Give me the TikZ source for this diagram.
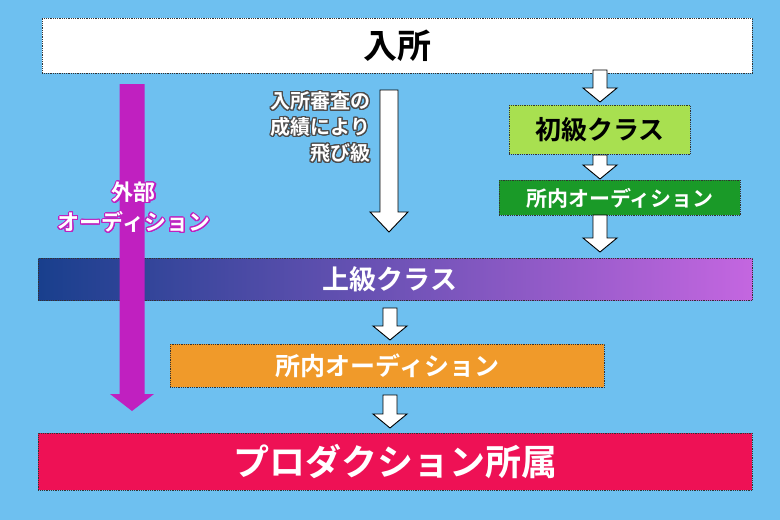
\documentclass[tikz,border=0pt]{standalone}
\usepackage{fontspec}
\newfontfamily\jp{Noto Sans CJK JP Bold}
\usepackage{contour}
\contourlength{1.1pt}
\contournumber{24}
\usetikzlibrary{calc}
\definecolor{sky}{HTML}{6EC0F0}
\definecolor{lgreen}{HTML}{A8E050}
\definecolor{dgreen}{HTML}{1A9A28}
\definecolor{upblue}{HTML}{1F4FB0}
\definecolor{uppink}{HTML}{C466E0}
\definecolor{orng}{HTML}{F09A2A}
\definecolor{prod}{HTML}{EE1155}
\definecolor{purp}{HTML}{C020C0}
\tikzset{
  box/.style={draw=black!80, densely dotted, line width=0.8pt, anchor=north west, inner sep=0pt},
  arr/.style={fill=white, draw=black, line width=0.9pt, line join=miter}
}
\begin{document}
\begin{tikzpicture}[x=1pt,y=-1pt]
  \fill[sky] (0,0) rectangle (780,520);
  \useasboundingbox (0,0) rectangle (780,520);

  \node[box, fill=white, minimum width=710pt, minimum height=55pt, font=\jp\fontsize{34}{34}\selectfont] (nyusho) at (42,18) {入所};
  \node[box, fill=lgreen, minimum width=181pt, minimum height=49pt, font=\jp\fontsize{26}{26}\selectfont] (shokyu) at (509,105) {初級クラス};
  \node[box, fill=dgreen, text=white, minimum width=241pt, minimum height=35pt, font=\jp\fontsize{21}{21}\selectfont] (aud1) at (499,180) {所内オーディション};
  \node[box, left color=upblue!80!black, right color=uppink, minimum width=714pt, minimum height=42pt] (jokyu) at (38,258) {};
  \node[text=white, font=\jp\fontsize{27}{27}\selectfont] at (390,279) {上級クラス};
  \node[box, fill=orng, text=white, minimum width=434pt, minimum height=43pt, font=\jp\fontsize{25}{25}\selectfont] (aud2) at (170,344) {所内オーディション};
  \node[box, fill=prod, text=white, minimum width=714pt, minimum height=57pt, font=\jp\fontsize{36}{36}\selectfont] (prod) at (38,433) {プロダクション所属};

  % external audition
  \coordinate (gaibuS) at (132,84);
  \coordinate (gaibuE) at (132,411);
  \fill[purp] let \p1=(gaibuS), \p2=(gaibuE) in
    (\x1-12.5,\y1) -- (\x1+12.5,\y1) -- (\x1+12.5,\y2+17) -- (\x1+22,\y2+17) -- (\x2,\y2)
    -- (\x1-22,\y2+17) -- (\x1-12.5,\y2+17) -- cycle;
  \node[font=\jp\fontsize{22}{30}\selectfont, text=white, align=center] at (134,208)
    {\contour{purp}{外部}\\\contour{purp}{オーディション}};

  % skip
  \coordinate (skipS) at (389,90);
  \coordinate (skipE) at (389,232);
  \draw[arr] let \p1=(skipS), \p2=(skipE) in
    (\x1-9,\y1) -- (\x1+9,\y1) -- (\x1+9,\y2+20) -- (\x1+19,\y2+20) -- (\x2,\y2)
    -- (\x1-19,\y2+20) -- (\x1-9,\y2+20) -- cycle;
  \node[font=\jp\fontsize{20}{26}\selectfont, text=white, align=right, anchor=north east] at (374,88)
    {\contour{black!70}{入所審査の}\\\contour{black!70}{成績により}\\\contour{black!70}{飛び級}};

  % small arrows
  \foreach \a/\b in {{600,70}/{600,102}, {600,155}/{600,179}, {600,215}/{600,252},
                     {390,308}/{390,340}, {390,395}/{390,428}} {
    \draw[arr] let \p1=(\a), \p2=(\b) in
      (\x1-7,\y1) -- (\x1+7,\y1) -- (\x1+7,\y2+14) -- (\x1+17,\y2+14) -- (\x2,\y2)
      -- (\x1-17,\y2+14) -- (\x1-7,\y2+14) -- cycle;
  }
\end{tikzpicture}
\end{document}
